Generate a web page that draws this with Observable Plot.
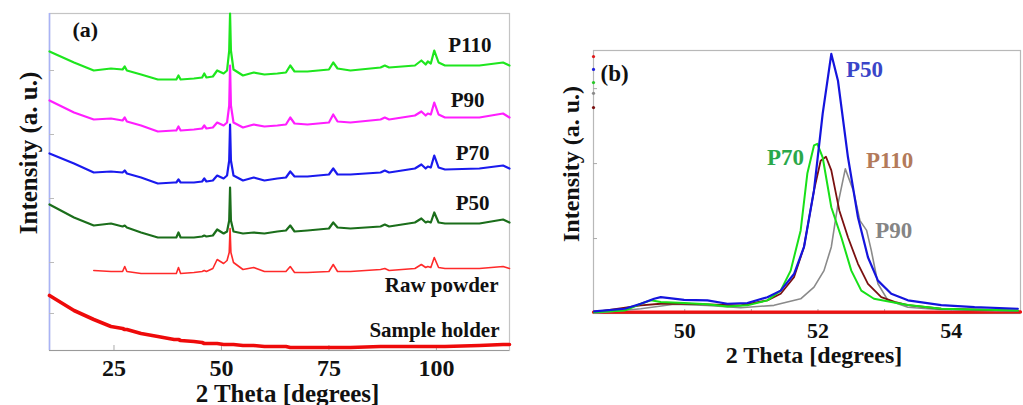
<!DOCTYPE html>
<html><head><meta charset="utf-8">
<script src="https://cdn.jsdelivr.net/npm/d3@7"></script>
<script src="https://cdn.jsdelivr.net/npm/@observablehq/plot@0.6"></script>
<style>
html,body{margin:0;padding:0;background:#fff;}
#wrap{position:relative;width:1023px;height:405px;overflow:hidden;background:#fff;}
#pa{position:absolute;left:0;top:0;}
#pb{position:absolute;left:540px;top:0;}
</style></head>
<body><div id="wrap"><div id="pa"></div><div id="pb"></div></div>
<script>
// ---------- Panel (a): full XRD patterns (stacked, arbitrary units) ----------
const thetaA = [10, 15.7, 20.3, 24.3, 27, 27.5, 28, 31.3, 35.2, 39, 39.5, 40, 40.5, 43.6, 45.5, 46, 46.5, 48, 49, 50.5, 51.3, 51.8, 52, 52.2, 52.8, 55, 57.5, 60, 63, 65, 66, 67, 70, 75, 76, 77, 80, 87, 88, 89, 95, 96.5, 97.5, 98, 98.7, 99.5, 100.5, 102, 110, 115.5, 117];
const p110A = [299,288,280,282,281, 284,280,276,271,271, 271,275,271,272,273, 277,273,274,280,277, 280,300,337,300,281, 275,278,276,277,278, 285,279,279,281,288, 282,280,283,285,283, 285,290,286,289,287, 300,288,285,285,288, 285];
const p90A  = [250,238,231,232,230, 233,229,225,219,220, 220,224,220,221,222, 225,222,223,228,225, 228,245,285,245,228, 223,226,224,225,226, 233,227,226,228,236, 229,228,231,233,231, 235,239,235,237,236, 248,236,233,233,237, 233];
const p70A  = [197,187,178,179,178, 180,177,173,167,168, 168,171,168,168,169, 172,169,170,175,172, 175,190,226,190,175, 170,173,170,172,173, 179,174,174,176,182, 176,176,178,180,178, 182,186,182,184,183, 195,183,181,182,185, 182];
const p50A  = [146,133,125,127,124, 125,123,118,113,113, 113,118,113,113,114, 115,114,115,121,117, 119,130,163,130,119, 117,118,117,119,120, 125,119,120,122,128, 123,122,124,126,124, 128,132,128,129,128, 138,128,127,127,131, 128];
const rawA  = [null,null,80,79,79, 84,79,77,77,77, 77,83,77,78,79, 80,79,82,91,87, 90,98,122,98,88, 81,83,79,79,79, 84,78,78,79,86, 79,79,81,82,80, 82,86,83,84,83, 93,83,82,82,84, 82];
const holderA = [55,40,31,24,22, 21,21,17,14,11, 11,11,10,9,8, 7,7,7,7,6, 6,6,6,6,6, 5,5,4,4,4, 3,3,3,3,3, 3,3,4,4,4, 4,4,4,4,4, 4,4,4,5,6, 6];
const namesA = ["P110", "P90", "P70", "P50", "Raw powder", "Sample holder"];
const xDomainA = [10, 117];
const yDomainA = [0, 337];
const xTicksA = [25, 50, 75, 100];
const yTicksA = [37, 88, 152, 216, 280];

// ---------- Panel (b): zoom on the ~52 deg peak ----------
const p50bX = [48.64, 49.1, 49.34, 49.54, 49.64, 49.99, 50.34, 50.64, 50.94, 51.24, 51.44, 51.64, 51.79, 51.94, 52.07, 52.2, 52.3, 52.45, 52.6, 52.75, 52.9, 53.1, 53.35, 53.85, 54.35, 55.0];
const p50bY = [0.8, 1.8, 3.7, 5.6, 6.2, 5.2, 5.0, 3.7, 4.0, 6.2, 8.7, 15, 25.3, 46.8, 75.9, 98.7, 88.5, 59.4, 36.6, 21.4, 12.5, 7.5, 5.0, 3.2, 2.4, 1.8];
const p70bX = [48.64, 49.1, 49.34, 49.49, 49.64, 49.99, 50.34, 50.64, 50.94, 51.24, 51.44, 51.59, 51.74, 51.84, 51.94, 51.99, 52.07, 52.2, 52.35, 52.5, 52.65, 52.84, 53.1, 53.35, 53.85, 55.0];
const p70bY = [0.5, 1.1, 3.7, 5.0, 4.4, 4.0, 3.5, 2.7, 3.1, 5.0, 8.7, 16.3, 31.6, 53.2, 63.9, 64.5, 59.4, 40.4, 29, 16.3, 8.7, 5.6, 4.4, 3.2, 1.8, 1.1];
const p110bX = [48.64, 49.34, 49.64, 49.99, 50.34, 50.84, 51.24, 51.44, 51.64, 51.79, 51.94, 52.04, 52.12, 52.2, 52.32, 52.45, 52.6, 52.75, 52.95, 53.15, 53.35, 53.85, 55.0];
const p110bY = [0.5, 3.1, 3.7, 3.7, 3.5, 3.1, 5.0, 7.5, 13.8, 25.3, 46.8, 58.1, 59.6, 54.4, 39.2, 29, 18.9, 11.3, 6.2, 4.4, 3.2, 1.8, 1.1];
const p90bX = [48.64, 49.34, 49.84, 50.34, 50.84, 51.34, 51.74, 51.94, 52.09, 52.2, 52.3, 52.41, 52.53, 52.63, 52.73, 52.8, 52.9, 53.05, 53.35, 53.85, 55.0];
const p90bY = [0.1, 1.8, 3.5, 3.1, 2.2, 3.1, 5.6, 10, 16.3, 25.3, 41.7, 55, 46.8, 35.3, 31.6, 24, 11.3, 5, 2.4, 1.4, 0.9];
const holderbX = [48.63, 50, 52, 54, 55.04];
const holderbY = [0.5, 0.5, 0.5, 0.5, 0.6];
const namesB = ["P50", "P70", "P110", "P90"];
// small series markers on the left axis of panel (b), top to bottom
const markerYB = [97.7, 92.8, 87.8, 83.7, 78.3];
const xDomainB = [48.63, 55.04];
const yDomainB = [0, 100];
const xTicksB = [50, 52, 54];
const xMinorB = [49, 50, 51, 52, 53, 54];
const yTicksB = [28.5, 57, 85.5];

const FONT = "'Liberation Serif', 'Times New Roman', serif";
const zip = (xs, ys) => xs.map((x, i) => ({x, y: ys[i]}));

// ---------- build panel (a) ----------
const seriesA = [
  {name: namesA[0], ys: p110A, color: "#1ee61e", w: 2.2, dx: -18, dy: -20},
  {name: namesA[1], ys: p90A, color: "#ff1eff", w: 2.2, dx: -25, dy: -17},
  {name: namesA[2], ys: p70A, color: "#1a1aee", w: 2.2, dx: -20, dy: -15},
  {name: namesA[3], ys: p50A, color: "#1b6e1b", w: 2.2, dx: -20, dy: -19},
  {name: namesA[4], ys: rawA, color: "#ff2a2a", w: 1.6, dx: -11, dy: 17},
  {name: namesA[5], ys: holderA, color: "#ee0a0a", w: 3.6, dx: -10, dy: -14}
];

const marksA = [
  Plot.frame({stroke: "#c4c4c4", strokeWidth: 1.2}),
  Plot.ruleX([xDomainA[0]], {stroke: "#a9b3f5", strokeWidth: 1.6}),
  Plot.ruleY([yDomainA[0]], {stroke: "#9a9a9a", strokeWidth: 1.2}),
  Plot.tickX(xTicksA, {x: d => d, insetTop: 332, stroke: "#aaa"}),
  Plot.tickY(yTicksA, {y: d => d, insetRight: 455, stroke: "#bbb"}),
  ...seriesA.map(s => Plot.line(zip(thetaA, s.ys), {x: "x", y: "y", stroke: s.color, strokeWidth: s.w, strokeLinejoin: "round"})),
  ...seriesA.map(s => Plot.text([{x: thetaA[thetaA.length - 1], y: s.ys[s.ys.length - 1], t: s.name}], {
    x: "x", y: "y", text: "t", textAnchor: "end", dx: s.dx, dy: s.dy,
    fontSize: 21, fontWeight: "bold", fill: "#111", fontFamily: FONT
  })),
  Plot.text(["(a)"], {frameAnchor: "top-left", textAnchor: "start", lineAnchor: "middle", dx: 23, dy: 16, fontSize: 22, fontWeight: "bold", fill: "#111"}),
  Plot.axisX(xTicksA, {tickSize: 0, tickPadding: 8, fontSize: 24, fontWeight: "bold", fill: "#111", label: null}),
  Plot.text(["2 Theta [degrees]"], {frameAnchor: "bottom", textAnchor: "middle", lineAnchor: "middle", dx: 8, dy: 43, fontSize: 25, fontWeight: "bold", fill: "#111"}),
  Plot.text(["Intensity (a. u.)"], {frameAnchor: "left", textAnchor: "middle", lineAnchor: "middle", rotate: -90, dx: -21, dy: -29, fontSize: 25, fontWeight: "bold", fill: "#111"})
];

const plotA = Plot.plot({
  width: 540, height: 405,
  marginLeft: 49, marginRight: 31, marginTop: 13, marginBottom: 55,
  x: {domain: xDomainA, label: null},
  y: {domain: yDomainA, axis: null},
  style: {fontFamily: FONT, background: "white", overflow: "visible"},
  marks: marksA
});
document.getElementById("pa").append(plotA);

// ---------- build panel (b) ----------
const seriesB = [
  {xs: holderbX, ys: holderbY, color: "#ee1111", w: 3.2},
  {xs: p90bX, ys: p90bY, color: "#8a8a8a", w: 1.6},
  {xs: p110bX, ys: p110bY, color: "#7a1010", w: 1.8},
  {xs: p70bX, ys: p70bY, color: "#18e018", w: 2.0},
  {xs: p50bX, ys: p50bY, color: "#1414dd", w: 2.2}
];
const markerColorsB = ["#e01818", "#2020dd", "#28c828", "#8a8a8a", "#7a1010"];
const labelsB = [
  {t: namesB[0], x: 52.42, y: 92.8, anchor: "start", color: "#3a45c8"},
  {t: namesB[1], x: 51.79, y: 59.3, anchor: "end", color: "#2aa84a"},
  {t: namesB[2], x: 52.72, y: 58.2, anchor: "start", color: "#b37a5a"},
  {t: namesB[3], x: 52.86, y: 31.6, anchor: "start", color: "#858585"}
];

const marksB = [
  Plot.frame({stroke: "#b8b8b8", strokeWidth: 1.2}),
  Plot.ruleY([yDomainB[0]], {stroke: "#888", strokeWidth: 1.2}),
  Plot.tickX(xMinorB, {x: d => d, insetTop: 259, stroke: "#aaa"}),
  Plot.tickY(yTicksB, {y: d => d, insetRight: 423, stroke: "#aaa"}),
  ...seriesB.map(s => Plot.line(zip(s.xs, s.ys), {x: "x", y: "y", stroke: s.color, strokeWidth: s.w, strokeLinejoin: "round"})),
  Plot.dot(markerYB.map((y, i) => ({x: xDomainB[0], y, c: markerColorsB[i]})), {x: "x", y: "y", fill: "c", r: 1.6, stroke: null}),
  ...labelsB.map(l => Plot.text([l], {x: "x", y: "y", text: "t", textAnchor: l.anchor, fill: l.color, fontSize: 23, fontWeight: "bold"})),
  Plot.text(["(b)"], {frameAnchor: "top-left", textAnchor: "start", lineAnchor: "middle", dx: 7, dy: 23, fontSize: 23, fontWeight: "bold", fill: "#111"}),
  Plot.axisX(xTicksB, {tickSize: 0, tickPadding: 9, fontSize: 22, fontWeight: "bold", fill: "#111", label: null}),
  Plot.text(["2 Theta [degrees]"], {frameAnchor: "bottom", textAnchor: "middle", lineAnchor: "middle", dx: 7, dy: 42, fontSize: 24, fontWeight: "bold", fill: "#111"}),
  Plot.text(["Intensity (a. u.)"], {frameAnchor: "left", textAnchor: "middle", lineAnchor: "middle", rotate: -90, dx: -22, dy: -18, fontSize: 24, fontWeight: "bold", fill: "#111"})
];

const plotB = Plot.plot({
  width: 483, height: 405,
  marginLeft: 53, marginRight: 3, marginTop: 50, marginBottom: 92,
  x: {domain: xDomainB, label: null},
  y: {domain: yDomainB, axis: null},
  style: {fontFamily: FONT, background: "white", overflow: "visible"},
  marks: marksB
});
document.getElementById("pb").append(plotB);
</script>
</body></html>
